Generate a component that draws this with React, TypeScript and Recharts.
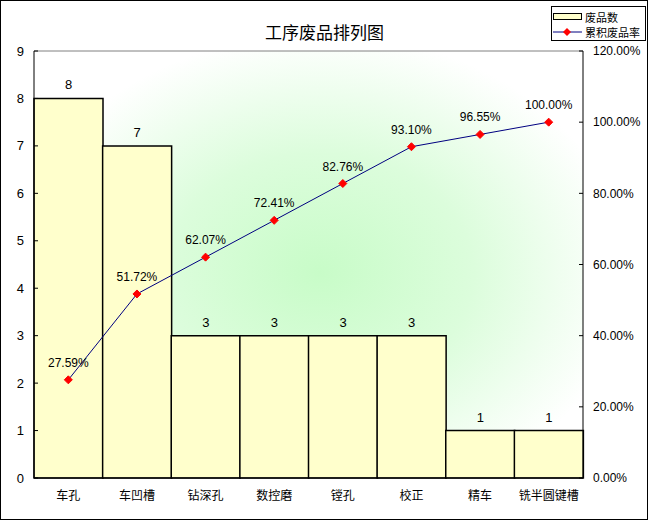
import React from 'react';
import {
  ComposedChart,
  Bar,
  Line,
  XAxis,
  YAxis,
  CartesianGrid,
  LabelList,
  Legend,
  ReferenceLine,
} from 'recharts';

const categories = ['车孔', '车凹槽', '钻深孔', '数控磨', '镗孔', '校正', '精车', '铣半圆键槽'];
const defectCounts = [8, 7, 3, 3, 3, 3, 1, 1];
const cumulativeRates = [27.59, 51.72, 62.07, 72.41, 82.76, 93.1, 96.55, 100.0];
const leftTicks = [0, 1, 2, 3, 4, 5, 6, 7, 8, 9];
const rightTicks = [0, 20, 40, 60, 80, 100, 120];

const data = categories.map((name, i) => ({
  name,
  count: defectCounts[i],
  cum: cumulativeRates[i],
}));

const FONT = "'Liberation Sans', 'Noto Sans CJK SC', sans-serif";

const LeftTick = (props: any) => {
  const { x, y, payload } = props;
  return (
    <g>
      <line x1={x} x2={x + 4} y1={y} y2={y} stroke="#000" strokeWidth={1} />
      <text x={x - 10} y={y} dy="0.35em" textAnchor="end" fontSize={13} fill="#000" fontFamily={FONT}>
        {payload.value}
      </text>
    </g>
  );
};

const RightTick = (props: any) => {
  const { x, y, payload } = props;
  return (
    <g>
      <line x1={x - 4} x2={x} y1={y} y2={y} stroke="#000" strokeWidth={1} />
      <text x={x + 10} y={y} dy="0.35em" textAnchor="start" fontSize={12} fill="#000" fontFamily={FONT}>
        {Number(payload.value).toFixed(2)}%
      </text>
    </g>
  );
};

const Diamond = (props: any) => {
  const { cx, cy } = props;
  if (cx == null || cy == null) return null;
  return (
    <polygon
      points={`${cx},${cy - 4} ${cx + 4},${cy} ${cx},${cy + 4} ${cx - 4},${cy}`}
      fill="#FF0000"
      stroke="#FF0000"
      strokeWidth={1}
    />
  );
};

const LegendContent = (props: any) => {
  const payload = props.payload || [];
  return (
    <div
      style={{
        border: '1px solid #000',
        background: '#fff',
        padding: '2px 1px 1px 1px',
        fontFamily: "'Noto Sans CJK SC', sans-serif",
        fontSize: 11,
        lineHeight: '14px',
        boxSizing: 'border-box',
        width: 95,
        height: 35,
        whiteSpace: 'nowrap',
      }}
    >
      {payload.map((entry: any, i: number) => (
        <div key={i} style={{ display: 'flex', alignItems: 'center', height: 15 }}>
          <svg width={29} height={12} style={{ marginRight: 3, flex: 'none' }}>
            {entry.dataKey === 'count' ? (
              <rect x={0.5} y={2.5} width={28} height={6} fill="#FFFFCC" stroke="#000" />
            ) : (
              <g>
                <line x1={0} x2={29} y1={6} y2={6} stroke="#000080" strokeWidth={1} />
                <polygon points="14,2 18,6 14,10 10,6" fill="#FF0000" />
              </g>
            )}
          </svg>
          <span style={{ color: '#000' }}>{entry.value}</span>
        </div>
      ))}
    </div>
  );
};

export default function App() {
  return (
    <div style={{ position: 'absolute', left: 0, top: 0, width: 649, height: 521, background: '#fff' }}>
      <ComposedChart
        width={649}
        height={521}
        data={data}
        margin={{ top: 51, right: 0, bottom: 0, left: 0 }}
        barCategoryGap={0}
        barGap={0}
      >
        <defs>
          <radialGradient id="bgGrad" cx="0.52" cy="0.52" r="0.56">
            <stop offset="0%" stopColor="#C8FCC8" />
            <stop offset="50%" stopColor="#DCFDDC" />
            <stop offset="100%" stopColor="#FFFFFF" />
          </radialGradient>
        </defs>
        <CartesianGrid horizontal={false} vertical={false} fill="url(#bgGrad)" />
        <XAxis
          dataKey="name"
          height={43}
          tickLine={false}
          tickSize={0}
          tickMargin={13}
          axisLine={{ stroke: '#000' }}
          tick={{ fontSize: 12, fill: '#000', fontFamily: FONT }}
          interval={0}
        />
        <YAxis
          yAxisId="left"
          orientation="left"
          width={34}
          domain={[0, 9]}
          ticks={leftTicks}
          interval={0}
          tickLine={false}
          tickSize={0}
          tickMargin={0}
          axisLine={{ stroke: '#000' }}
          tick={<LeftTick />}
        />
        <YAxis
          yAxisId="right"
          orientation="right"
          width={66}
          domain={[0, 120]}
          ticks={rightTicks}
          interval={0}
          tickLine={false}
          tickSize={0}
          tickMargin={0}
          axisLine={{ stroke: '#000' }}
          tick={<RightTick />}
        />
        <ReferenceLine yAxisId="left" y={9} stroke="#808080" strokeWidth={1} />
        <Legend
          layout="horizontal"
          verticalAlign="middle"
          align="center"
          content={<LegendContent />}
          wrapperStyle={{ position: 'absolute', left: 551, top: 6, width: 95, height: 35 }}
        />
        <Bar
          yAxisId="left"
          dataKey="count"
          name="废品数"
          fill="#FFFFCC"
          stroke="#000"
          strokeWidth={1.5}
          isAnimationActive={false}
          legendType="rect"
        >
          <LabelList dataKey="count" position="top" offset={9} fill="#000" fontSize={13} fontFamily={FONT} />
        </Bar>
        <Line
          yAxisId="right"
          dataKey="cum"
          name="累积废品率"
          type="linear"
          stroke="#000080"
          strokeWidth={1}
          dot={<Diamond />}
          activeDot={false}
          isAnimationActive={false}
          legendType="line"
        >
          <LabelList
            dataKey="cum"
            position="top"
            offset={13}
            fill="#000"
            fontSize={12}
            fontFamily={FONT}
            formatter={(v: any) => `${Number(v).toFixed(2)}%`}
          />
        </Line>
      </ComposedChart>
      <div
        style={{
          position: 'absolute',
          left: 0,
          top: 21,
          width: 649,
          textAlign: 'center',
          fontFamily: "'Noto Sans CJK SC', sans-serif",
          fontSize: 17,
          lineHeight: '22px',
          color: '#000',
          pointerEvents: 'none',
        }}
      >
        工序废品排列图
      </div>
      <div
        style={{
          position: 'absolute',
          left: 0,
          top: 0,
          width: 648,
          height: 520,
          border: '1px solid #000',
          boxSizing: 'border-box',
          pointerEvents: 'none',
        }}
      />
    </div>
  );
}
